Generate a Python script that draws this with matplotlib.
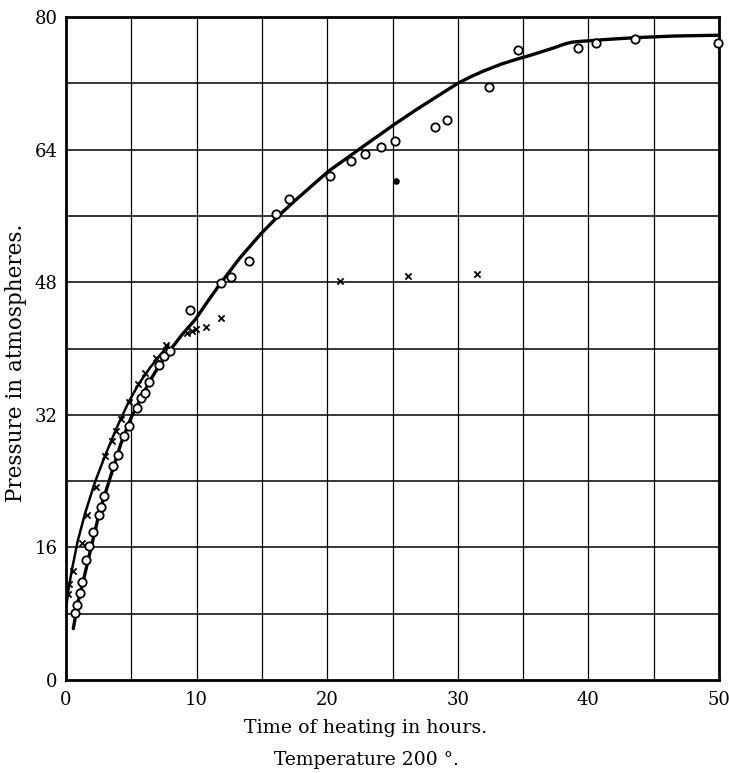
import matplotlib
matplotlib.use("Agg")
import matplotlib.pyplot as plt

# Observed pressures (circles)
circle_x = [0.69, 0.87, 1.08, 1.23, 1.54, 1.79, 2.1, 2.54, 2.69, 2.92, 3.59, 4.0, 4.46,
            4.79, 5.41, 5.77, 6.03, 6.36, 7.15, 7.49, 8.0, 9.49, 11.85, 12.6, 14.0,
            16.1, 17.1, 20.2, 21.8, 22.9, 24.1, 25.2, 28.25, 29.15, 32.4, 34.6,
            39.2, 40.6, 43.6, 49.9]
circle_y = [8.1, 9.0, 10.5, 11.8, 14.5, 16.2, 17.8, 19.9, 20.9, 22.2, 25.8, 27.2, 29.4,
            30.6, 32.8, 34.0, 34.6, 35.9, 38.0, 39.1, 39.7, 44.7, 47.9, 48.6, 50.6,
            56.2, 58.0, 60.8, 62.6, 63.5, 64.3, 65.0, 66.7, 67.6, 71.5, 76.0,
            76.2, 76.9, 77.3, 76.9]

# Second series (crosses)
cross_x = [0.15, 0.23, 0.51, 1.2, 1.59, 2.28, 3.0, 3.51, 3.82, 4.23, 4.79, 5.49, 6.03,
           6.92, 7.62, 9.28, 9.67, 9.97, 10.7, 11.9, 21.0, 26.2, 31.5]
cross_y = [10.4, 11.6, 13.2, 16.5, 19.9, 23.3, 27.0, 28.8, 30.1, 31.5, 33.5, 35.7, 37.1,
           38.9, 40.4, 41.9, 42.1, 42.3, 42.6, 43.7, 48.1, 48.7, 49.0]

# Single filled point
dot_x = [25.3]
dot_y = [60.2]

# Drawn curves
main_curve_x = [0.56, 0.9, 1.33, 2.0, 2.6, 3.5, 4.2, 5.0, 5.8, 6.5, 7.2, 7.97, 8.9, 9.9,
                10.9, 11.85, 13.3, 14.9, 16.2, 17.5, 18.8, 20.1, 21.8, 22.5, 24.3, 25.1,
                26.9, 28.5, 30.0, 31.0, 32.0, 33.3, 34.5, 35.6, 36.6, 37.4, 38.1, 38.7,
                39.3, 40.2, 41.5, 43.5, 46.5, 49.9]
main_curve_y = [6.2, 9.3, 12.0, 16.5, 20.5, 25.0, 28.5, 31.7, 34.2, 36.3, 38.1, 39.8, 41.7,
                43.5, 45.8, 47.9, 50.9, 53.8, 55.9, 57.8, 59.6, 61.4, 63.3, 64.1, 66.1,
                67.0, 68.9, 70.5, 72.0, 72.8, 73.5, 74.3, 74.9, 75.4, 75.9, 76.3, 76.7,
                76.95, 77.05, 77.15, 77.3, 77.5, 77.7, 77.8]
cross_curve_x = [0.0, 0.2, 0.44, 0.9, 1.46, 2.2, 3.0, 3.9, 4.78, 5.6, 6.44, 7.2, 7.84]
cross_curve_y = [8.6, 11.0, 13.2, 16.8, 20.1, 23.8, 27.1, 30.5, 33.5, 35.8, 37.7, 39.2, 40.4]

x_ticks = [0, 10, 20, 30, 40, 50]
y_ticks = [0, 16, 32, 48, 64, 80]

plt.rcParams['font.family'] = ['DejaVu Serif']

fig = plt.figure(figsize=(7.29, 7.73), dpi=100)
ax = fig.add_axes([66/729, 1 - 680/773, (719 - 66)/729, (680 - 17)/773])

ax.set_xlim(0, 50)
ax.set_ylim(0, 80)

for gx in range(5, 50, 5):
    ax.axvline(gx, color='black', lw=0.9, zorder=1)
for gy in range(8, 80, 8):
    ax.axhline(gy, color='black', lw=1.1, zorder=1)

ax.plot(main_curve_x, main_curve_y, color='black', lw=2.4, zorder=3,
        solid_capstyle='round', solid_joinstyle='round')
ax.plot(cross_curve_x, cross_curve_y, color='black', lw=1.8, zorder=3,
        solid_capstyle='round', solid_joinstyle='round')

ax.scatter(circle_x, circle_y, s=36, facecolors='white', edgecolors='black',
           linewidths=1.3, zorder=4, clip_on=False)
ax.scatter(cross_x, cross_y, s=20, marker='x', color='black', linewidths=1.3, zorder=4)
ax.scatter(dot_x, dot_y, s=14, color='black', zorder=4)

ax.set_xticks(x_ticks)
ax.set_yticks(y_ticks)
ax.tick_params(length=0, labelsize=13)
ax.tick_params(axis='x', pad=8)
ax.tick_params(axis='y', pad=6)
for sp in ax.spines.values():
    sp.set_linewidth(2.0)

ax.set_xlabel("Time of heating in hours.", fontsize=13.7)
ax.xaxis.set_label_coords((366 - 66) / 653, -(728 - 680) / 663)
ax.xaxis.label.set_va('center')
ax.set_ylabel("Pressure in atmospheres.", fontsize=15.5)
ax.yaxis.set_label_coords(-(66 - 16) / 653, (680 - 363) / 663)
ax.yaxis.label.set_va('center')
fig.text(366 / 729, 1 - 760/773, "Temperature 200 °.", ha='center', va='center',
         fontsize=13.5)

fig.savefig("out.png", dpi=100, facecolor='white')
